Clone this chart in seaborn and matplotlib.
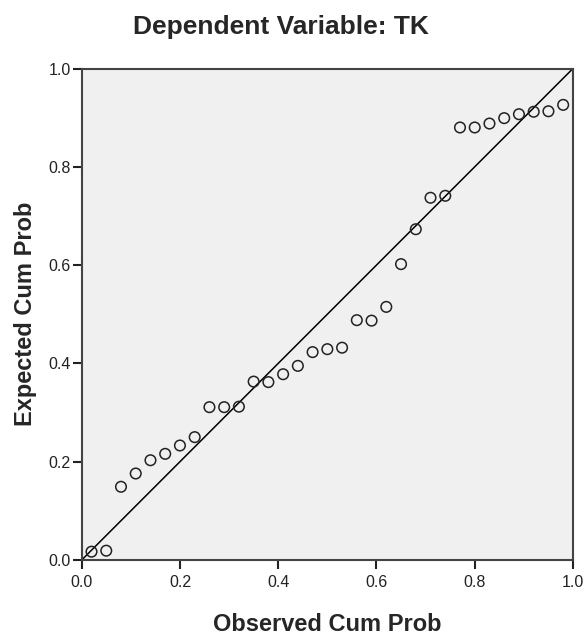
import numpy as np
import pandas as pd
import matplotlib
matplotlib.use("Agg")
import matplotlib.pyplot as plt
import seaborn as sns

# observed vs expected cumulative probabilities
observed = [0.02, 0.05, 0.08, 0.11, 0.14, 0.17, 0.20, 0.23, 0.26, 0.29, 0.32,
            0.35, 0.38, 0.41, 0.44, 0.47, 0.50, 0.53, 0.56, 0.59, 0.62, 0.65,
            0.68, 0.71, 0.74, 0.77, 0.80, 0.83, 0.86, 0.89, 0.92, 0.95, 0.98]
expected = [0.017, 0.019, 0.149, 0.176, 0.203, 0.216, 0.233, 0.250, 0.311, 0.311, 0.312,
            0.363, 0.362, 0.378, 0.395, 0.423, 0.429, 0.432, 0.488, 0.487, 0.515, 0.602,
            0.673, 0.737, 0.741, 0.880, 0.880, 0.888, 0.899, 0.907, 0.912, 0.913, 0.926]
ticks = [0.0, 0.2, 0.4, 0.6, 0.8, 1.0]
tick_labels = ["0.0", "0.2", "0.4", "0.6", "0.8", "1.0"]

df = pd.DataFrame({"Observed Cum Prob": observed, "Expected Cum Prob": expected})

sns.set_style("white")
plt.rcParams['font.family'] = ['Liberation Sans', 'DejaVu Sans']

fig = plt.figure(figsize=(5.86, 6.39), dpi=100)
ax = fig.add_axes([0.1394, 0.1236, 0.8384, 0.7692])
ax.set_facecolor("#f0f0f0")

# reference line
ax.plot([0, 1], [0, 1], color="black", lw=1.1, zorder=2)
sns.scatterplot(data=df, x="Observed Cum Prob", y="Expected Cum Prob", ax=ax,
                marker="o", s=58, facecolor="none", edgecolor="#222222",
                linewidth=1.1, zorder=3)

ax.set_xlim(0, 1)
ax.set_ylim(0, 1)
ax.set_xticks(ticks)
ax.set_xticklabels(tick_labels)
ax.set_yticks(ticks)
ax.set_yticklabels(tick_labels)
ax.tick_params(axis="both", direction="out", length=6.5, width=1.5, color="#222222",
               labelsize=11.5, labelcolor="#222222", bottom=True, left=True)
ax.tick_params(axis="x", pad=4.5)
ax.tick_params(axis="y", pad=1.5)
for sp in ax.spines.values():
    sp.set_color("#444444")
    sp.set_linewidth(1.5)

ax.set_xlabel("Observed Cum Prob", fontsize=17, fontweight="bold")
ax.set_ylabel("Expected Cum Prob", fontsize=17, fontweight="bold")
ax.xaxis.set_label_coords(0.5, (560 - 624) / 491.5)
ax.xaxis.label.set_va("center")
ax.yaxis.set_label_coords((25 - 81.7) / 491.5, 0.5)
ax.yaxis.label.set_va("center")
fig.text(281 / 586, 1 - 27 / 639, "Dependent Variable: TK", ha="center", va="center",
         fontsize=19, fontweight="bold")

fig.savefig("out.png", dpi=100)
